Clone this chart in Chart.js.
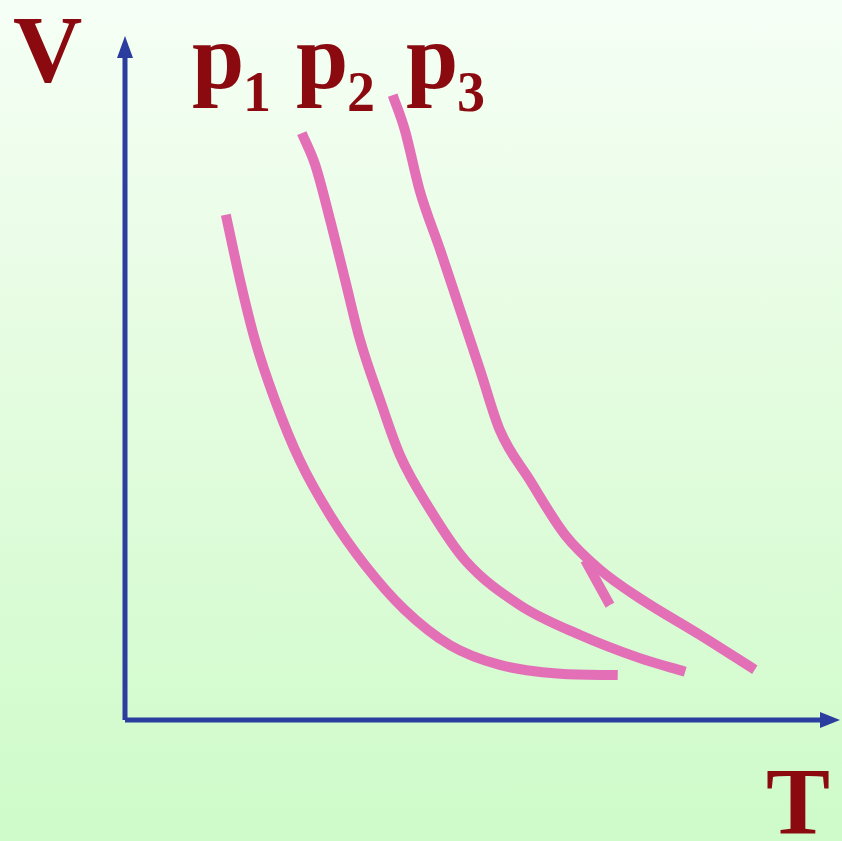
<!DOCTYPE html>
<html lang="en">
<head>
    <meta charset="UTF-8">
    <title>V-T isobars</title>
    <script src="https://cdn.jsdelivr.net/npm/chart.js"></script>
    <style>
        body {
            margin: 0;
        }
        .container {
            width: 842px;
            height: 841px;
            background: linear-gradient(to bottom, #f6fff6 0%, #e6fce2 40%, #cefbc9 100%);
        }
    </style>
</head>
<body>
    <div class="container">
        <canvas id="vtChart"></canvas>
    </div>

    <script>
        // Curves (T, V in arbitrary units, origin at axis corner)
        const p1T = [1.42, 1.62, 1.83, 2.11, 2.46, 2.89, 3.38, 3.94, 4.58, 5.28, 6.13, 6.94];
        const p1V = [7.43, 6.47, 5.59, 4.71, 3.82, 3.01, 2.28, 1.62, 1.10, 0.81, 0.68, 0.66];

        const p2T = [2.49, 2.68, 2.89, 3.10, 3.31, 3.59, 3.87, 4.30, 4.79, 5.56, 6.41, 7.25, 7.89];
        const p2V = [8.63, 8.16, 7.35, 6.47, 5.59, 4.71, 3.90, 3.09, 2.35, 1.69, 1.25, 0.91, 0.71];

        const p3T = [3.77, 3.94, 4.15, 4.44, 4.72, 5.00, 5.28, 5.70, 6.20, 6.69, 7.25, 8.10, 8.87];
        const p3V = [9.19, 8.68, 7.79, 6.91, 6.03, 5.15, 4.26, 3.53, 2.72, 2.21, 1.79, 1.25, 0.74];

        // little stray pen stroke on p3
        const strokeT = [6.48, 6.83];
        const strokeV = [2.35, 1.69];

        const axisNames = ['T', 'V'];
        const curveNames = ['p', 'p', 'p'];
        const curveSubs = ['1', '2', '3'];

        const pink = '#e36fb6';
        const blue = '#2b3d9e';
        const darkRed = '#8a0a10';

        function toPoints(xs, ys) {
            return xs.map((x, i) => ({ x: x, y: ys[i] }));
        }

        function curve(label, xs, ys) {
            return {
                label: label,
                data: toPoints(xs, ys),
                borderColor: pink,
                borderWidth: 10,
                borderCapStyle: 'butt',
                borderJoinStyle: 'round',
                pointRadius: 0,
                cubicInterpolationMode: 'monotone',
                fill: false
            };
        }

        // axes with arrowheads and serif labels
        const decorations = {
            id: 'decorations',
            beforeDatasetsDraw(chart) {
                const ctx = chart.ctx;
                const x0 = chart.scales.x.getPixelForValue(0);
                const y0 = chart.scales.y.getPixelForValue(0);
                const top = chart.chartArea.top;
                const right = chart.chartArea.right;

                ctx.save();
                ctx.strokeStyle = blue;
                ctx.fillStyle = blue;
                ctx.lineWidth = 5;
                ctx.beginPath();
                ctx.moveTo(x0, y0);
                ctx.lineTo(x0, top + 12);
                ctx.moveTo(x0, y0);
                ctx.lineTo(right - 10, y0);
                ctx.stroke();

                ctx.beginPath();
                ctx.moveTo(x0, top - 4);
                ctx.lineTo(x0 - 8, top + 18);
                ctx.lineTo(x0 + 8, top + 18);
                ctx.closePath();
                ctx.fill();

                ctx.beginPath();
                ctx.moveTo(right + 5, y0);
                ctx.lineTo(right - 15, y0 - 8);
                ctx.lineTo(right - 15, y0 + 8);
                ctx.closePath();
                ctx.fill();
                ctx.restore();
            },
            afterDraw(chart) {
                const ctx = chart.ctx;
                ctx.save();
                ctx.fillStyle = darkRed;
                ctx.textBaseline = 'alphabetic';
                ctx.textAlign = 'left';

                ctx.font = 'bold 96px "Liberation Serif", "DejaVu Serif", serif';
                ctx.fillText(axisNames[1], 13, 82);
                ctx.fillText(axisNames[0], 766, 834);

                const pX = [192, 296, 406];
                const subX = [243, 347, 457];
                curveNames.forEach((name, i) => {
                    ctx.font = 'bold 94px "Liberation Serif", "DejaVu Serif", serif';
                    ctx.fillText(name, pX[i], 88);
                    ctx.font = 'bold 56px "Liberation Serif", "DejaVu Serif", serif';
                    ctx.fillText(curveSubs[i], subX[i], 111);
                });
                ctx.restore();
            }
        };

        const ctx = document.getElementById('vtChart').getContext('2d');
        new Chart(ctx, {
            type: 'line',
            data: {
                datasets: [
                    curve('p1', p1T, p1V),
                    curve('p2', p2T, p2V),
                    curve('p3', p3T, p3V),
                    curve('stroke', strokeT, strokeV)
                ]
            },
            options: {
                responsive: true,
                maintainAspectRatio: false,
                animation: false,
                layout: {
                    padding: { left: 125, right: 7, top: 40, bottom: 121 }
                },
                plugins: {
                    legend: { display: false },
                    tooltip: { enabled: false }
                },
                scales: {
                    x: {
                        type: 'linear',
                        min: 0,
                        max: 10,
                        display: false
                    },
                    y: {
                        type: 'linear',
                        min: 0,
                        max: 10,
                        display: false
                    }
                }
            },
            plugins: [decorations]
        });
    </script>
</body>
</html>
